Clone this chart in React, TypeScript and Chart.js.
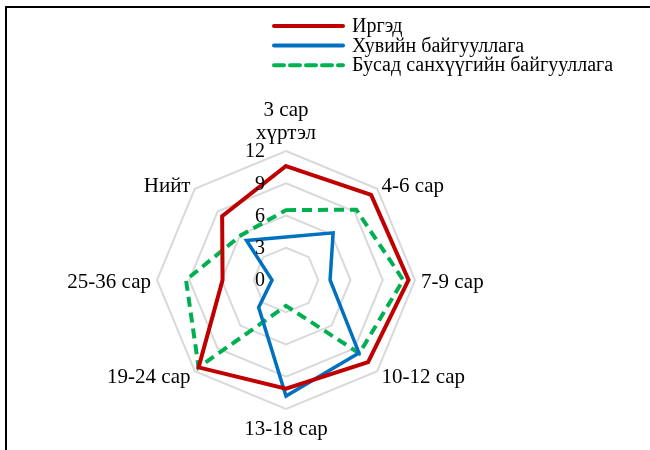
import React, { useEffect, useRef } from "react";
import { Chart, registerables } from "chart.js";

Chart.register(...registerables);

const categories: (string | string[])[] = [
  ["3 сар", "хүртэл"],
  "4-6 сар",
  "7-9 сар",
  "10-12 сар",
  "13-18 сар",
  "19-24 сар",
  "25-36 сар",
  "Нийт",
];
const seriesNames = ["Иргэд", "Хувийн байгууллага", "Бусад санхүүгийн байгууллага"];
const citizens = [10.6, 11.2, 11.4, 10.8, 10.1, 11.5, 5.9, 8.4];
const privateOrg = [4.0, 6.2, 4.1, 9.6, 10.8, 3.6, 1.3, 5.2];
const otherFinancial = [6.5, 9.25, 10.9, 9.65, 2.4, 11.5, 9.3, 5.9];
const tickValues = [0, 3, 6, 9, 12];

const FONT = '20px "Liberation Serif", "Times New Roman", serif';
const LABEL_FONT = '21px "Liberation Serif", "Times New Roman", serif';

const labelPlugin = {
  id: "customLabels",
  afterDraw(chart: any) {
    const scale = chart.scales.r;
    const ctx = chart.ctx as CanvasRenderingContext2D;
    ctx.save();
    ctx.font = FONT;
    ctx.fillStyle = "#000";
    // radial tick labels
    ctx.textAlign = "right";
    ctx.textBaseline = "middle";
    tickValues.forEach((v) => {
      const d = scale.getDistanceFromCenterForValue(v);
      ctx.fillText(String(v), scale.xCenter - 21, scale.yCenter - d + 1);
    });
    // point labels
    ctx.font = LABEL_FONT;
    const labels = chart.data.labels as (string | string[])[];
    const n = labels.length;
    const lh = 23;
    labels.forEach((lab, i) => {
      const lines = Array.isArray(lab) ? lab : [lab];
      const p = scale.getPointPosition(i, scale.drawingArea + 6);
      const angle = (i * 360) / n;
      let align: CanvasTextAlign = "center";
      if (angle > 0 && angle < 180) align = "left";
      else if (angle > 180) align = "right";
      ctx.textAlign = align;
      let yTop: number;
      if (angle === 0) yTop = p.y - lines.length * lh;
      else if (angle === 180) yTop = p.y + 3;
      else yTop = p.y - (lines.length * lh) / 2 + 2;
      lines.forEach((ln, k) => ctx.fillText(ln, p.x, yTop + k * lh + lh / 2));
    });
    // legend
    ctx.font = FONT;
    chart.data.datasets.forEach((ds: any, k: number) => {
      const y = 26 + k * 19.6;
      ctx.beginPath();
      ctx.strokeStyle = ds.borderColor;
      ctx.lineWidth = 4;
      ctx.lineCap = "round";
      ctx.setLineDash(ds.borderDash || []);
      ctx.moveTo(274, y);
      ctx.lineTo(343, y);
      ctx.stroke();
      ctx.setLineDash([]);
      ctx.textAlign = "left";
      ctx.textBaseline = "middle";
      ctx.fillStyle = "#000";
      ctx.fillText(ds.label, 352, y + 1);
    });
    ctx.restore();
  },
};

export default function App() {
  const ref = useRef<HTMLCanvasElement | null>(null);
  useEffect(() => {
    if (!ref.current) return;
    const chart = new Chart(ref.current, {
      type: "radar",
      data: {
        labels: categories as any,
        datasets: [
          {
            label: seriesNames[0],
            data: citizens,
            borderColor: "#C00000",
            backgroundColor: "transparent",
            borderWidth: 4,
            pointRadius: 0,
            fill: false,
          },
          {
            label: seriesNames[1],
            data: privateOrg,
            borderColor: "#0070C0",
            backgroundColor: "transparent",
            borderWidth: 3.5,
            pointRadius: 0,
            fill: false,
          },
          {
            label: seriesNames[2],
            data: otherFinancial,
            borderColor: "#00B050",
            backgroundColor: "transparent",
            borderWidth: 4,
            borderDash: [10, 6],
            pointRadius: 0,
            fill: false,
          },
        ],
      },
      options: {
        responsive: false,
        animation: false,
        devicePixelRatio: 1,
        layout: { padding: { left: 157, right: 235, top: 151, bottom: 41 } },
        plugins: { legend: { display: false }, tooltip: { enabled: false } },
        scales: {
          r: {
            min: 0,
            max: 12,
            ticks: { stepSize: 3, display: false },
            grid: { color: "#d9d9d9", lineWidth: 2 },
            angleLines: { display: false },
            pointLabels: { display: false },
          },
        },
      },
      plugins: [labelPlugin],
    });
    return () => chart.destroy();
  }, []);
  return (
    <div style={{ position: "absolute", left: 0, top: 0, width: 650, height: 450, overflow: "hidden", background: "#fff" }}>
      <div
        style={{
          position: "absolute",
          left: 5,
          top: 6,
          width: 700,
          height: 500,
          borderLeft: "2px solid #000",
          borderTop: "2px solid #000",
        }}
      />
      <canvas ref={ref} width={650} height={450} style={{ position: "absolute", left: 0, top: 0, width: 650, height: 450 }} />
    </div>
  );
}
